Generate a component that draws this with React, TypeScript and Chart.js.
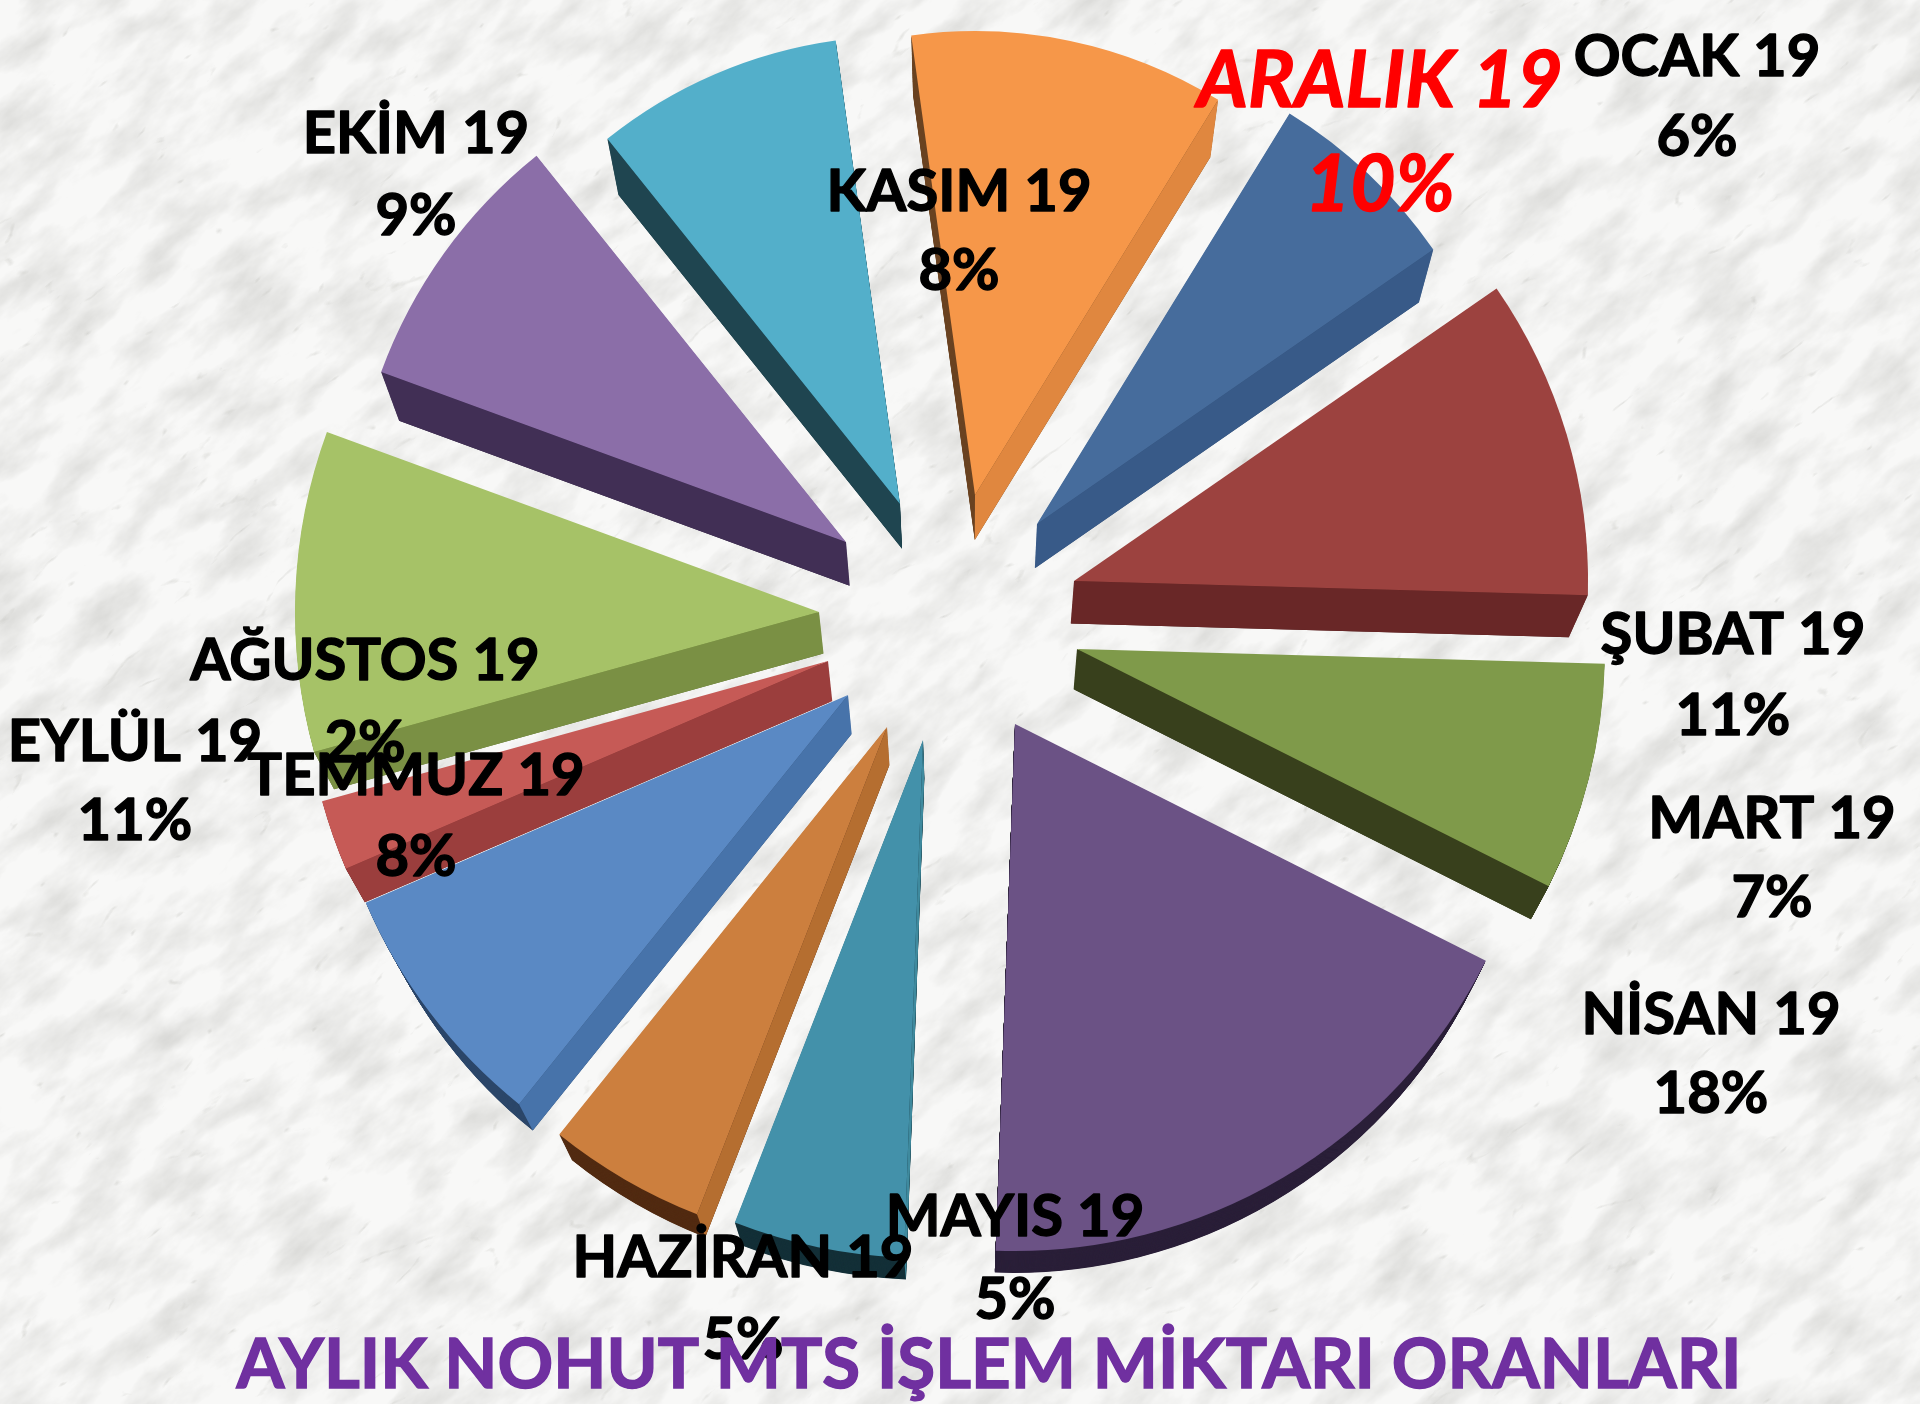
import React, { useEffect, useRef } from "react";
import { Chart, registerables } from "chart.js";

Chart.register(...registerables);

const months = ["OCAK 19", "ŞUBAT 19", "MART 19", "NİSAN 19", "MAYIS 19", "HAZİRAN 19", "TEMMUZ 19", "AĞUSTOS 19", "EYLÜL 19", "EKİM 19", "KASIM 19", "ARALIK 19"];
const shares = [6, 11, 7, 18, 5, 5, 8, 2, 11, 9, 8, 10];
const chartTitle = "AYLIK NOHUT MTS İŞLEM MİKTARI ORANLARI";

const topColors = ["#466c9c", "#9c423f", "#7f9a4a", "#6b5285", "#4391aa", "#cc7f3e", "#5a89c4", "#c65a56", "#a6c267", "#8b6ea8", "#53afca", "#f69749"];
const outerWallColors = ["#2f4a70", "#4f1f1e", "#2f3617", "#2a1f38", "#143038", "#522b12", "#2b4669", "#6e2a2a", "#5a6e2c", "#2f2040", "#163840", "#6b4423"];
const cutWallColors = ["#385a88", "#692727", "#38401c", "#2a1f38", "#3f8a9e", "#b56e30", "#4773aa", "#9b3e3d", "#7a9044", "#412f55", "#1f4550", "#e0873f"];

// styling of the exploded, tilted pie (px and degrees)
const sliceRadius = [482, 514, 528, 527, 518, 523, 525, 525, 524, 495, 468, 464];
const sliceTips = [
  [1037, 524], [1074, 581], [1077, 649], [1015, 724], [923, 740], [887, 727],
  [848, 695], [828, 661], [819, 612], [846, 542], [900, 504], [975, 495],
];
const tiltCorrection = [0, 2.1, -1.2, -1.3, -0.7, 0.5, 0, -0.9, -0.3, -4.3, -5.5, -3.5, 0];
const vanish = { x: 967, y: 1968 };
const depth = 0.0306;

// label placement: [centre x, first line y, second line y]
const labelSpots = [
  [1697, 57, 137], [1733, 635, 716], [1772, 819, 898], [1711, 1015, 1094],
  [1015, 1217, 1300], [743, 1258, 1340], [416, 776, 857], [365, 661, 743],
  [135, 742, 821], [416, 134, 216], [959, 192, 271], [1380, 82, 186],
];
const highlighted = "ARALIK 19";

const marble = `<svg xmlns="http://www.w3.org/2000/svg" width="1920" height="1404">
<defs>
<filter id="v" filterUnits="userSpaceOnUse" x="-800" y="-800" width="3600" height="3000" color-interpolation-filters="sRGB">
<feTurbulence type="turbulence" baseFrequency="0.006 0.016" numOctaves="5" seed="23"/>
<feColorMatrix values="0 0 0 0 0.76  0 0 0 0 0.76  0 0 0 0 0.74  0 0 0 -9 0.8"/>
</filter>
<filter id="m" filterUnits="userSpaceOnUse" x="-800" y="-800" width="3600" height="3000" color-interpolation-filters="sRGB">
<feTurbulence type="fractalNoise" baseFrequency="0.013 0.032" numOctaves="6" seed="4"/>
<feColorMatrix values="0 0 0 0 0.84  0 0 0 0 0.84  0 0 0 0 0.83  1.7 0 0 0 -0.68"/>
</filter>
</defs>
<rect width="1920" height="1404" fill="#f8f8f7"/>
<g transform="rotate(-38 960 702)">
<rect x="-800" y="-800" width="3600" height="3000" filter="url(#m)"/>
<rect x="-800" y="-800" width="3600" height="3000" filter="url(#v)" opacity="0.55"/>
</g></svg>`;

const rad = (deg: number) => (deg * Math.PI) / 180;

const extrudePlugin = {
  id: "extrude",
  afterDatasetsUpdate(chart: any) {
    const arcs = chart.getDatasetMeta(0).data;
    arcs.forEach((el: any, i: number) => {
      el.startAngle += rad(tiltCorrection[i]);
      el.endAngle += rad(tiltCorrection[i + 1]);
      el.circumference = el.endAngle - el.startAngle;
      el.x = sliceTips[i][0];
      el.y = sliceTips[i][1];
      el.outerRadius = sliceRadius[i];
    });
  },
  beforeDatasetsDraw(chart: any) {
    const ctx = chart.ctx as CanvasRenderingContext2D;
    const arcs = chart.getDatasetMeta(0).data;
    const steps = 44;
    const project = (p: { x: number; y: number }) => ({
      x: p.x + (vanish.x - p.x) * depth,
      y: p.y + (vanish.y - p.y) * depth,
    });
    arcs.forEach((el: any, i: number) => {
      const saved = el.options;
      el.options = {
        backgroundColor: outerWallColors[i], borderColor: outerWallColors[i], borderWidth: 0,
        offset: 0, spacing: 0, circular: true, borderRadius: 0, borderAlign: "center",
        selfJoin: false, borderDash: [], borderDashOffset: 0, borderJoinStyle: "round",
      };
      for (let s = steps; s >= 1; s--) {
        const k = (s / steps) * depth;
        ctx.save();
        ctx.translate(vanish.x, vanish.y);
        ctx.scale(1 - k, 1 - k);
        ctx.translate(-vanish.x, -vanish.y);
        el.draw(ctx);
        ctx.restore();
      }
      el.options = saved;

      // radial cut face that looks downwards
      const apex = { x: el.x, y: el.y };
      const rimAt = (a: number) => ({ x: apex.x + Math.cos(a) * sliceRadius[i], y: apex.y + Math.sin(a) * sliceRadius[i] });
      const candidates = [
        { rim: rimAt(el.startAngle), nx: Math.sin(el.startAngle), ny: -Math.cos(el.startAngle) },
        { rim: rimAt(el.endAngle), nx: -Math.sin(el.endAngle), ny: Math.cos(el.endAngle) },
      ].map((c) => {
        const q = project(c.rim);
        return { ...c, q, facing: (q.x - c.rim.x) * c.nx + (q.y - c.rim.y) * c.ny };
      });
      const best = candidates[0].facing > candidates[1].facing ? candidates[0] : candidates[1];
      if (best.facing > 0) {
        const a2 = project(apex);
        ctx.save();
        ctx.fillStyle = cutWallColors[i];
        ctx.beginPath();
        ctx.moveTo(apex.x, apex.y);
        ctx.lineTo(best.rim.x, best.rim.y);
        ctx.lineTo(best.q.x, best.q.y);
        ctx.lineTo(a2.x, a2.y);
        ctx.closePath();
        ctx.fill();
        ctx.restore();
      }
    });
  },
  afterDraw(chart: any) {
    const ctx = chart.ctx as CanvasRenderingContext2D;
    ctx.save();
    ctx.textAlign = "center";
    ctx.textBaseline = "middle";
    ctx.lineJoin = "round";
    months.forEach((m, i) => {
      const [x, y1, y2] = labelSpots[i];
      const hot = m === highlighted;
      const colour = hot ? "#ff0000" : "#000000";
      ctx.fillStyle = colour;
      ctx.strokeStyle = colour;
      ctx.lineWidth = 1.4;
      ctx.font = hot ? "italic bold 78px Lato" : "bold 58px Lato";
      ctx.fillText(m, x, y1);
      ctx.strokeText(m, x, y1);
      ctx.fillText(`${shares[i]}%`, x, y2);
      ctx.strokeText(`${shares[i]}%`, x, y2);
    });
    ctx.restore();
    // the title sits over the labels
    const t = chart.titleBlock;
    t.draw();
    ctx.save();
    ctx.textAlign = "center";
    ctx.textBaseline = "middle";
    ctx.font = "bold 69px Lato";
    ctx.strokeStyle = "#7030a0";
    ctx.lineWidth = 1.4;
    ctx.strokeText(chartTitle, t.left + t.width / 2, t.top + (t.height - 4) / 2);
    ctx.restore();
  },
};

export default function App() {
  const ref = useRef<HTMLCanvasElement>(null);
  useEffect(() => {
    const chart = new Chart(ref.current as HTMLCanvasElement, {
      type: "pie",
      data: {
        labels: months,
        datasets: [{
          data: shares,
          backgroundColor: topColors,
          borderWidth: 0,
          offset: 0,
        }],
      },
      options: {
        responsive: false,
        animation: false,
        events: [],
        rotation: 31.6,
        radius: 500,
        layout: { padding: { left: 58 } },
        plugins: {
          legend: { display: false },
          tooltip: { enabled: false },
          title: {
            display: true,
            text: chartTitle,
            position: "bottom",
            color: "#7030a0",
            font: { family: "Lato", weight: "bold", size: 69, lineHeight: 1 },
            padding: { top: 0, bottom: 4 },
          },
        },
      },
      plugins: [extrudePlugin],
    } as any);
    return () => chart.destroy();
  }, []);
  return (
    <div
      style={{
        position: "fixed", left: 0, top: 0, width: 1920, height: 1404, overflow: "hidden",
        backgroundColor: "#f4f4f3",
        backgroundImage: `url("data:image/svg+xml,${encodeURIComponent(marble)}")`,
      }}
    >
      <canvas ref={ref} width={1920} height={1404} style={{ display: "block" }} />
    </div>
  );
}
